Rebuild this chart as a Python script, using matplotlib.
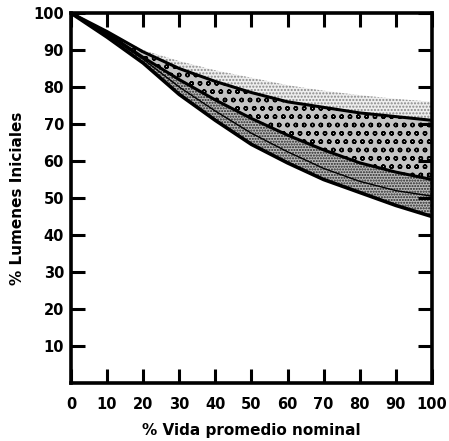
import matplotlib
matplotlib.use("Agg")
import matplotlib.pyplot as plt
import numpy as np

# Data
vida = [0, 10, 20, 30, 40, 50, 60, 70, 80, 90, 100]
borde_superior = [100, 95, 90, 87, 84.5, 82.5, 80.5, 79, 77.8, 76.8, 76]
curva_alta = [100, 95, 89.5, 85, 81.5, 78.5, 76, 74.5, 73, 72, 71]
curva_media = [100, 94.5, 88, 82, 76.5, 71.5, 67, 63, 59.5, 57, 55]
curva_interm = [100, 94, 87.5, 80, 73.5, 67.5, 62.5, 58, 54.5, 52, 50.5]
curva_baja = [100, 93.5, 86.5, 78, 71, 64.5, 59.5, 55, 51.5, 48, 45]

xticks = [0, 10, 20, 30, 40, 50, 60, 70, 80, 90, 100]
yticks = [10, 20, 30, 40, 50, 60, 70, 80, 90, 100]

plt.rcParams['hatch.linewidth'] = 1.0
plt.rcParams['font.family'] = ['DejaVu Sans']

fig = plt.figure(figsize=(4.49, 4.41), dpi=100)
ax = fig.add_axes([0.158, 0.1315, 0.804, 0.839])

# Bands
ax.fill_between(vida, curva_alta, borde_superior, facecolor='#eeeeee',
                edgecolor='#888888', hatch='.....', linewidth=0)
ax.fill_between(vida, curva_media, curva_alta, facecolor='#c4c4c4',
                edgecolor='black', hatch='oo', linewidth=0)
ax.fill_between(vida, curva_baja, curva_media, facecolor='#bbbbbb',
                edgecolor='#222222', hatch='......', linewidth=0)

ax.plot(vida, curva_alta, color='black', lw=2.2)
ax.plot(vida, curva_media, color='black', lw=2.2)
ax.plot(vida, curva_interm, color='black', lw=1.0)
ax.plot(vida, curva_baja, color='black', lw=2.6)

ax.set_xlim(0, 100)
ax.set_ylim(0, 100)

ax.set_xticks(xticks)
ax.set_yticks(yticks)
ax.set_xticklabels([str(v) for v in xticks], fontweight='bold', fontsize=10.5)
ax.set_yticklabels([str(v) for v in yticks], fontweight='bold', fontsize=10.5)
ax.tick_params(axis='both', direction='in', width=2.2, top=True, right=True,
               length=10, pad=5)
ax.tick_params(axis='x', which='both', length=7, pad=10)
ax.tick_params(axis='x', which='both', top=True, length=10)
for sp in ax.spines.values():
    sp.set_linewidth(2.6)

ax.set_xlabel('% Vida promedio nominal', fontweight='bold', fontsize=11,
              labelpad=8)
ax.set_ylabel('% Lumenes Iniciales', fontweight='bold', fontsize=11,
              labelpad=6)

fig.savefig('out.png', dpi=100)
